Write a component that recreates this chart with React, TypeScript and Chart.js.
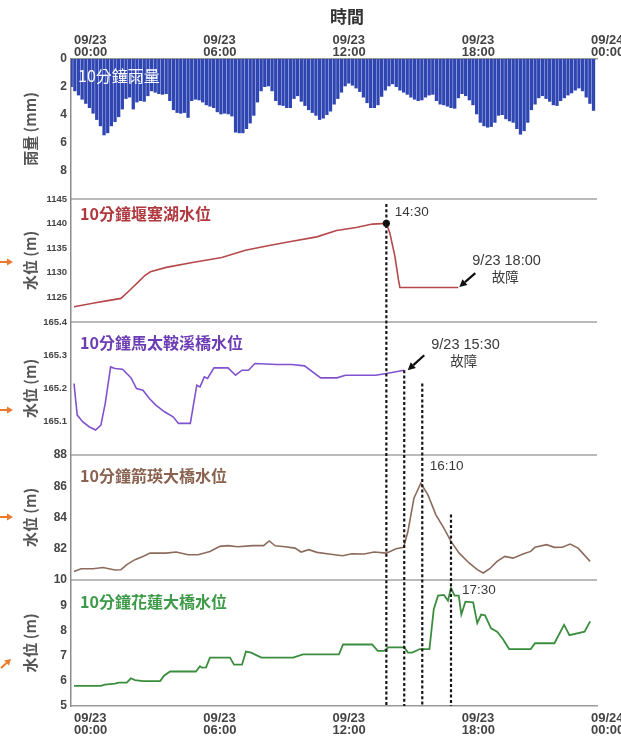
import React, { useEffect, useRef } from 'react';
import { Chart, registerables } from 'chart.js';

Chart.register(...registerables);

const CJK = '"Noto Sans CJK TC", "Noto Sans CJK SC", sans-serif';
const LATIN = '"Liberation Sans", Arial, sans-serif';

const W = 621;
const H = 738;

// time axis, hours after 09/23 00:00
const X_MIN = -0.139;
const X_MAX = 24.278;
const X_TICKS = [0, 6, 12, 18, 24];
const X_TICK_LABELS = [
  ['09/23', '00:00'],
  ['09/23', '06:00'],
  ['09/23', '12:00'],
  ['09/23', '18:00'],
  ['09/24', '00:00'],
];

// 10-minute rainfall (mm), one bar per 10-minute interval starting 00:00
const RAIN_INTERVAL_H = 1 / 6;
const RAIN_MM = [
  2.0, 2.3, 2.6, 2.9, 3.2, 3.5, 3.9, 4.35, 4.8, 5.45,
  5.3, 4.8, 4.5, 4.15, 3.6, 2.85, 2.75, 3.6, 3.1, 3.0,
  3.05, 2.65, 2.3, 2.4, 2.5, 2.55, 2.5, 3.0, 3.65, 3.85,
  3.9, 3.85, 4.2, 3.0, 2.9, 2.95, 3.1, 3.3, 3.4, 3.5,
  3.8, 3.95, 3.9, 3.95, 4.1, 5.25, 5.3, 5.3, 5.0, 4.6,
  4.05, 3.1, 2.3, 2.0, 1.95, 2.3, 3.0, 3.3, 3.35, 3.5,
  3.5, 2.85, 2.65, 3.05, 3.35, 3.65, 3.85, 4.05, 4.35, 4.25,
  4.0, 3.75, 3.25, 2.85, 2.4, 1.95, 1.75, 1.9, 2.1, 2.35,
  2.75, 3.15, 3.5, 3.5, 3.3, 2.7, 2.25, 1.95, 1.8, 2.0,
  2.25, 2.4, 2.55, 2.75, 2.9, 3.0, 2.95, 2.75, 2.6, 2.55,
  3.0, 3.25, 3.3, 3.4, 3.5, 3.55, 2.8, 2.5, 2.65, 2.95,
  3.3, 3.95, 4.55, 4.8, 4.9, 4.85, 4.55, 4.05, 4.0, 4.3,
  4.45, 4.55, 5.0, 5.4, 5.15, 4.55, 3.65, 3.25, 2.8, 2.65,
  2.85, 3.05, 3.3, 3.35, 3.0, 2.8, 2.6, 2.45, 2.25, 2.1,
  2.3, 2.75, 3.2, 3.7,
];

const RAIN_TICKS = [0, 2, 4, 6, 8];
const LAKE_TICKS = [1125, 1130, 1135, 1140, 1145];
const MATAI_TICKS = [165.1, 165.2, 165.3, 165.4];
const JIANYING_TICKS = [82, 84, 86, 88];
const HUALIEN_TICKS = [5, 6, 7, 8, 9, 10];

// [hour, water level m]
const LAKE_LEVEL = [
  [0, 1123.1], [0.5, 1123.5], [1.0, 1123.9], [1.5, 1124.3], [2.18, 1124.8],
  [2.6, 1126.5], [3.0, 1128.2], [3.3, 1129.5], [3.55, 1130.2], [4.28, 1131.1],
  [5.5, 1132.1], [6.86, 1133.1], [7.96, 1134.6], [9.0, 1135.5], [10.0, 1136.3],
  [11.27, 1137.3], [12.19, 1138.6], [13.1, 1139.2], [13.85, 1139.9], [14.5, 1140.05],
  [14.66, 1138.1], [14.9, 1133.3], [15.06, 1128.6], [15.13, 1127.0], [16.0, 1127.0],
  [17.0, 1127.0], [17.84, 1127.0],
];

const MATAI_LEVEL = [
  [0.0, 165.215], [0.15, 165.12], [0.4, 165.1], [0.7, 165.085], [1.0, 165.075],
  [1.25, 165.09], [1.45, 165.155], [1.7, 165.265], [1.9, 165.26], [2.25, 165.258],
  [2.45, 165.245], [2.65, 165.232], [2.9, 165.2], [3.2, 165.195], [3.5, 165.17],
  [3.8, 165.15], [4.2, 165.13], [4.6, 165.115], [4.85, 165.095], [5.4, 165.095],
  [5.7, 165.21], [5.85, 165.205], [6.05, 165.235], [6.2, 165.23], [6.5, 165.262],
  [7.15, 165.262], [7.5, 165.24], [7.8, 165.255], [8.1, 165.255], [8.4, 165.275],
  [9.4, 165.272], [10.1, 165.272], [10.7, 165.268], [11.45, 165.232], [12.2, 165.232],
  [12.6, 165.24], [14.0, 165.24], [14.5, 165.245], [15.33, 165.255],
];

const JIANYING_LEVEL = [
  [0, 80.55], [0.33, 80.72], [0.88, 80.72], [1.35, 80.8], [1.9, 80.64],
  [2.18, 80.66], [2.45, 80.98], [2.83, 81.3], [3.2, 81.51], [3.53, 81.72],
  [4.27, 81.72], [4.74, 81.79], [5.3, 81.62], [5.76, 81.62], [6.31, 81.83],
  [6.78, 82.15], [7.14, 82.2], [7.6, 82.13], [8.3, 82.2], [8.8, 82.2],
  [9.06, 82.5], [9.34, 82.19], [9.8, 82.13], [10.26, 82.04], [10.54, 81.79],
  [10.9, 81.94], [11.28, 81.77], [11.83, 81.66], [12.47, 81.55], [12.9, 81.68],
  [13.47, 81.66], [13.93, 81.79], [14.5, 81.72], [14.95, 82.0], [15.3, 82.09],
  [15.5, 83.1], [15.78, 85.23], [16.1, 86.19], [16.43, 85.45], [16.8, 84.17],
  [17.17, 83.32], [17.5, 82.47], [17.88, 81.72], [18.34, 81.09], [18.72, 80.66],
  [19.0, 80.45], [19.3, 80.72], [19.64, 81.19], [20.0, 81.51], [20.38, 81.4],
  [20.84, 81.66], [21.2, 81.83], [21.4, 82.09], [21.94, 82.26], [22.3, 82.09],
  [22.67, 82.1], [23.03, 82.3], [23.4, 82.04], [23.96, 81.19],
];

const HUALIEN_LEVEL = [
  [0, 5.8], [1.25, 5.8], [1.43, 5.85], [1.9, 5.89], [2.08, 5.93],
  [2.45, 5.93], [2.64, 6.1], [2.83, 6.03], [3.2, 5.99], [4.0, 5.99],
  [4.18, 6.2], [4.46, 6.37], [5.66, 6.37], [5.85, 6.58], [5.94, 6.52],
  [6.13, 6.53], [6.31, 6.92], [7.24, 6.92], [7.43, 6.64], [7.8, 6.64],
  [7.98, 7.16], [8.22, 7.12], [8.7, 6.92], [10.17, 6.92], [10.63, 7.05],
  [12.3, 7.05], [12.49, 7.44], [13.84, 7.44], [14.1, 7.19], [14.4, 7.19],
  [14.58, 7.33], [15.33, 7.33], [15.5, 7.12], [15.7, 7.12], [16.06, 7.26],
  [16.5, 7.26], [16.7, 8.84], [16.9, 9.38], [17.17, 9.41], [17.36, 9.18],
  [17.5, 9.68], [17.67, 9.38], [17.86, 9.38], [17.98, 8.63], [18.17, 9.14],
  [18.53, 9.11], [18.72, 8.29], [18.9, 8.63], [19.08, 8.6], [19.36, 8.08],
  [19.64, 7.95], [19.9, 7.67], [20.2, 7.26], [21.2, 7.26], [21.4, 7.49],
  [22.3, 7.49], [22.75, 8.22], [23.0, 7.81], [23.7, 7.95], [23.96, 8.36],
];

const PANEL_TITLES = ['10分鐘雨量', '10分鐘堰塞湖水位', '10分鐘馬太鞍溪橋水位', '10分鐘箭瑛大橋水位', '10分鐘花蓮大橋水位'];
const Y_TITLES = ['雨量 (mm)', '水位 (m)', '水位 (m)', '水位 (m)', '水位 (m)'];
const X_TITLE = '時間';

// events
const LAKE_PEAK = [14.5, 1140.05];
const LAKE_PEAK_LABEL = '14:30';
const LAKE_FAIL_LABEL = ['9/23 18:00', '故障'];
const MATAI_FAIL_LABEL = ['9/23 15:30', '故障'];
const JIANYING_PEAK_LABEL = '16:10';
const HUALIEN_PEAK_LABEL = '17:30';
const EVENT_LINES = [
  { t: 14.5, axis: 'yLake', from: 1144 },
  { t: 15.33, axis: 'yMatai', from: 165.255 },
  { t: 16.167, axis: 'yMatai', from: 165.215 },
  { t: 17.5, axis: 'yJianying', from: 84.2 },
];

const PANELS = [
  { id: 'yRain', min: 0, max: 10, ticks: RAIN_TICKS, reverse: true, weight: 5, h: 140, tickSize: 12, digits: 0,
    labelColor: '#ffffff', bold: false, labelDx: 7, labelDy: 17, arrow: null },
  { id: 'yLake', min: 1120, max: 1145, ticks: LAKE_TICKS, reverse: false, weight: 4, h: 123, tickSize: 9.5, digits: 0,
    labelColor: '#b0393f', bold: true, labelDx: 9, labelDy: 15, arrow: { dy: 1.5, angled: false } },
  { id: 'yMatai', min: 165.0, max: 165.4, ticks: MATAI_TICKS, reverse: false, weight: 3, h: 133, tickSize: 9.5, digits: 1,
    labelColor: '#6d3db3', bold: true, labelDx: 9, labelDy: 21, arrow: { dy: 21.5, angled: false } },
  { id: 'yJianying', min: 80, max: 88, ticks: JIANYING_TICKS, reverse: false, weight: 2, h: 125, tickSize: 12, digits: 0,
    labelColor: '#8a6250', bold: true, labelDx: 9, labelDy: 21, arrow: { dy: -0.5, angled: false } },
  { id: 'yHualien', min: 5, max: 10, ticks: HUALIEN_TICKS, reverse: false, weight: 1, h: 126, tickSize: 12, digits: 0,
    labelColor: '#3d9a48', bold: true, labelDx: 9, labelDy: 22, arrow: { dy: 18, angled: true } },
];

const LINE_COLORS = { yLake: '#b5484b', yMatai: '#8052cf', yJianying: '#8c6b5c', yHualien: '#3b8d3e' };
const ORANGE = '#ec7a2c';
const TEXT_DARK = '#3a3a3a';

function toXY(arr) {
  return arr.map(([x, y]) => ({ x, y }));
}

function peakOf(arr) {
  return arr.reduce((a, b) => (b[1] > a[1] ? b : a), arr[0]);
}

function drawArrow(ctx, x0, y0, x1, y1, color, lw, headLen, headW) {
  const ang = Math.atan2(y1 - y0, x1 - x0);
  const bx = x1 - headLen * Math.cos(ang);
  const by = y1 - headLen * Math.sin(ang);
  ctx.save();
  ctx.strokeStyle = color;
  ctx.fillStyle = color;
  ctx.lineWidth = lw;
  ctx.beginPath();
  ctx.moveTo(x0, y0);
  ctx.lineTo(bx, by);
  ctx.stroke();
  ctx.beginPath();
  ctx.moveTo(x1, y1);
  ctx.lineTo(bx + headW * Math.sin(ang), by - headW * Math.cos(ang));
  ctx.lineTo(bx - headW * Math.sin(ang), by + headW * Math.cos(ang));
  ctx.closePath();
  ctx.fill();
  ctx.restore();
}

const decorPlugin = {
  id: 'decor',
  beforeDatasetsDraw(chart) {
    const { ctx, chartArea, scales } = chart;
    ctx.save();
    ctx.strokeStyle = '#a3a3a3';
    ctx.lineWidth = 1.6;
    PANELS.slice(1).forEach((p) => {
      const y = scales[p.id].top;
      ctx.beginPath();
      ctx.moveTo(chartArea.left, y);
      ctx.lineTo(chartArea.right, y);
      ctx.stroke();
    });
    ctx.restore();
  },
  afterDatasetsDraw(chart) {
    const { ctx, chartArea, scales } = chart;
    const xs = scales.x;
    ctx.save();

    // dashed event lines
    ctx.setLineDash([3, 2.3]);
    ctx.lineWidth = 2.2;
    ctx.strokeStyle = '#161616';
    EVENT_LINES.forEach((ev) => {
      const px = xs.getPixelForValue(ev.t);
      const top = scales[ev.axis].getPixelForValue(ev.from);
      ctx.beginPath();
      ctx.moveTo(px, top);
      ctx.lineTo(px, chartArea.bottom);
      ctx.stroke();
    });
    ctx.setLineDash([]);

    // peak dot
    const dX = xs.getPixelForValue(LAKE_PEAK[0]);
    const dY = scales.yLake.getPixelForValue(LAKE_PEAK[1]);
    ctx.fillStyle = '#111';
    ctx.beginPath();
    ctx.arc(dX, dY, 3.6, 0, Math.PI * 2);
    ctx.fill();

    // panel titles
    ctx.textBaseline = 'middle';
    ctx.textAlign = 'left';
    PANELS.forEach((p, i) => {
      ctx.font = `${p.bold ? 'bold ' : ''}16px ${CJK}`;
      ctx.fillStyle = p.labelColor;
      ctx.fillText(PANEL_TITLES[i], chartArea.left + p.labelDx, scales[p.id].top + p.labelDy);
    });

    // annotations
    ctx.fillStyle = TEXT_DARK;
    ctx.font = `13.5px ${LATIN}`;
    ctx.fillText(LAKE_PEAK_LABEL, dX + 8.5, dY - 11);

    const lakeEnd = LAKE_LEVEL[LAKE_LEVEL.length - 1];
    const fx = xs.getPixelForValue(lakeEnd[0]);
    const fy = scales.yLake.getPixelForValue(lakeEnd[1]);
    ctx.font = `14.5px ${LATIN}`;
    ctx.fillText(LAKE_FAIL_LABEL[0], fx + 14, fy - 26.5);
    ctx.font = `13.5px ${CJK}`;
    ctx.textAlign = 'center';
    ctx.fillText(LAKE_FAIL_LABEL[1], fx + 47, fy - 10.7);
    ctx.textAlign = 'left';
    drawArrow(ctx, fx + 17, fy - 14.5, fx + 1, fy - 0.5, '#111', 2.2, 7.5, 3.8);

    const mEnd = MATAI_LEVEL[MATAI_LEVEL.length - 1];
    const mx = xs.getPixelForValue(mEnd[0]);
    const my = scales.yMatai.getPixelForValue(mEnd[1]);
    ctx.fillStyle = TEXT_DARK;
    ctx.font = `14.5px ${LATIN}`;
    ctx.fillText(MATAI_FAIL_LABEL[0], mx + 27, my - 25);
    ctx.font = `13.5px ${CJK}`;
    ctx.textAlign = 'center';
    ctx.fillText(MATAI_FAIL_LABEL[1], mx + 59.5, my - 9.5);
    ctx.textAlign = 'left';
    drawArrow(ctx, mx + 20, my - 15, mx + 3.5, my, '#111', 2.2, 7.5, 3.8);

    const jp = peakOf(JIANYING_LEVEL);
    const jx = xs.getPixelForValue(jp[0]);
    const jy = scales.yJianying.getPixelForValue(jp[1]);
    ctx.fillStyle = TEXT_DARK;
    ctx.font = `13.5px ${LATIN}`;
    ctx.fillText(JIANYING_PEAK_LABEL, jx + 9, jy - 17);

    const hp = peakOf(HUALIEN_LEVEL);
    const hx = xs.getPixelForValue(hp[0]);
    const hy = scales.yHualien.getPixelForValue(hp[1]);
    ctx.fillText(HUALIEN_PEAK_LABEL, hx + 11, hy + 2);

    // top title
    ctx.font = `bold 17px ${CJK}`;
    ctx.fillStyle = '#333';
    ctx.textAlign = 'center';
    ctx.fillText(X_TITLE, 347, 17);

    // orange arrows at left
    PANELS.forEach((p) => {
      if (!p.arrow) return;
      const s = scales[p.id];
      const cy = (s.top + s.bottom) / 2 + p.arrow.dy;
      if (p.arrow.angled) {
        drawArrow(ctx, 1, cy + 7, 11, cy - 2, ORANGE, 2, 6, 3.5);
      } else {
        drawArrow(ctx, 0, cy, 13, cy, ORANGE, 2, 6, 3.5);
      }
    });

    ctx.restore();
  },
};

function xAxis(position, height, padding) {
  return {
    type: 'linear',
    position,
    min: X_MIN,
    max: X_MAX,
    offset: false,
    grid: { display: false, drawTicks: false, offset: false },
    border: { display: true, color: '#9a9a9a', width: 1.5 },
    afterBuildTicks: (s) => {
      s.ticks = X_TICKS.map((v) => ({ value: v }));
    },
    ticks: {
      autoSkip: false,
      maxRotation: 0,
      minRotation: 0,
      align: 'start',
      padding,
      color: '#444',
      font: { family: LATIN, size: 13, weight: 'bold', lineHeight: 0.92 },
      callback: (v) => X_TICK_LABELS[X_TICKS.indexOf(v)],
    },
    afterFit: (s) => {
      s.height = height;
      s.paddingLeft = 0;
      s.paddingRight = 0;
    },
  };
}

function yAxis(p, i) {
  return {
    type: 'linear',
    position: 'left',
    stack: 'panels',
    stackWeight: p.h,
    weight: p.weight,
    min: p.min,
    max: p.max,
    reverse: p.reverse,
    grid: { display: false, drawTicks: false },
    border: { display: true, color: '#8c8c8c', width: 1.5 },
    afterBuildTicks: (s) => {
      s.ticks = p.ticks.map((v) => ({ value: v }));
    },
    ticks: {
      autoSkip: false,
      padding: 4,
      color: '#444',
      font: { family: LATIN, size: p.tickSize, weight: 'bold' },
      callback: (v) => Number(v).toFixed(p.digits),
    },
    title: {
      display: true,
      text: Y_TITLES[i],
      color: '#555',
      font: { family: CJK, size: 15, weight: 'bold', lineHeight: 1.2 },
      padding: { top: 21, bottom: 0 },
    },
    afterFit: (s) => {
      s.width = 71;
      s.paddingTop = 0;
      s.paddingBottom = 0;
    },
  };
}

export default function App() {
  const ref = useRef(null);

  useEffect(() => {
    document.body.style.margin = '0';
    const canvas = ref.current;
    if (!canvas) return undefined;

    const scales = {
      x: xAxis('bottom', 32, 6.3),
      xTop: xAxis('top', 59, 0.5),
      xRain: { type: 'linear', display: false, min: 0, max: 24, offset: false, grid: { offset: false } },
    };
    PANELS.forEach((p, i) => {
      scales[p.id] = yAxis(p, i);
    });

    const lineDs = (id, data, width) => ({
      type: 'line',
      data: toXY(data),
      xAxisID: 'x',
      yAxisID: id,
      borderColor: LINE_COLORS[id],
      borderWidth: width,
      pointRadius: 0,
      tension: 0,
      fill: false,
    });

    const chart = new Chart(canvas, {
      type: 'line',
      data: {
        datasets: [
          {
            type: 'bar',
            data: RAIN_MM.map((v, i) => ({ x: (i + 0.5) * RAIN_INTERVAL_H, y: v })),
            xAxisID: 'xRain',
            yAxisID: 'yRain',
            backgroundColor: '#2f46b2',
            borderWidth: 0,
            barThickness: 3.3,
            inflateAmount: 0,
          },
          lineDs('yLake', LAKE_LEVEL, 1.6),
          lineDs('yMatai', MATAI_LEVEL, 1.6),
          lineDs('yJianying', JIANYING_LEVEL, 1.6),
          lineDs('yHualien', HUALIEN_LEVEL, 1.8),
        ],
      },
      options: {
        responsive: false,
        animation: false,
        devicePixelRatio: 1,
        events: [],
        layout: { padding: { left: 0, right: W - 597, top: 0, bottom: 0 } },
        plugins: { legend: { display: false }, tooltip: { enabled: false }, title: { display: false } },
        scales,
      },
      plugins: [decorPlugin],
    });

    return () => chart.destroy();
  }, []);

  return (
    <div style={{ width: W, height: H, background: '#fff' }}>
      <canvas ref={ref} width={W} height={H} style={{ display: 'block' }} />
    </div>
  );
}
